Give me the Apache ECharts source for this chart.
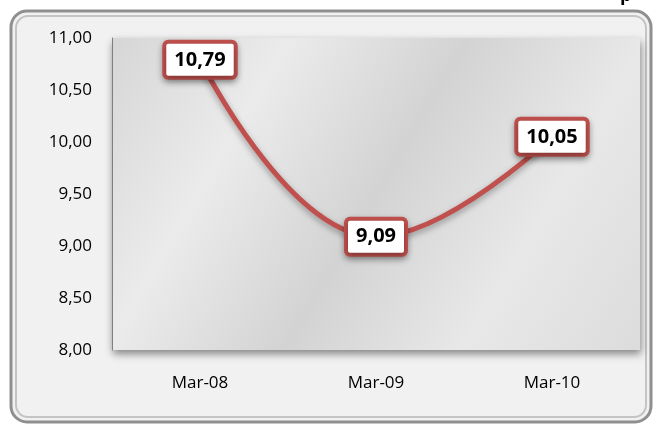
<!DOCTYPE html>
<html>
<head>
<meta charset="utf-8">
<script src="https://cdn.jsdelivr.net/npm/echarts@6/dist/echarts.min.js"></script>
<style>
  html, body { margin: 0; padding: 0; background: #fff; }
  #chart { width: 656px; height: 427px; }
</style>
</head>
<body>
<div id="chart"></div>
<script>
var categories = ['Mar-08', 'Mar-09', 'Mar-10'];
var values = [10.79, 9.09, 10.05];
var yTicks = [8, 11, 0.5]; // min, max, step

var fmt = function (v) {
    return v.toFixed(2).replace('.', ',');
};

var chart = echarts.init(document.getElementById('chart'));

var option = {
    animation: false,
    textStyle: { fontFamily: 'Open Sans' },
    graphic: [
        {
            type: 'rect',
            z: -10,
            shape: { x: 11, y: 11, width: 640, height: 411, r: 16 },
            style: { fill: '#f1f1f1', stroke: '#8f8f8f', lineWidth: 3 }
        },
        {
            type: 'rect',
            z: -9,
            shape: { x: 16, y: 16, width: 630, height: 401, r: 12 },
            style: { fill: 'none', stroke: '#c4c4c4', lineWidth: 2 }
        },
        {
            type: 'text',
            left: 620,
            top: -13,
            style: { text: 'p', font: 'bold 18px "Open Sans"', fill: '#000' }
        }
    ],
    grid: {
        left: 112,
        right: 16,
        top: 38,
        bottom: 77,
        show: true,
        borderWidth: 0,
        backgroundColor: {
            type: 'linear', x: 0, y: 0, x2: 1, y2: 1,
            colorStops: [
                { offset: 0, color: '#d6d6d6' },
                { offset: 0.25, color: '#ebebeb' },
                { offset: 0.5, color: '#d3d3d3' },
                { offset: 0.75, color: '#e8e8e8' },
                { offset: 1, color: '#dcdcdc' }
            ]
        },
        shadowColor: 'rgba(0,0,0,0.45)',
        shadowBlur: 8,
        shadowOffsetX: 1,
        shadowOffsetY: 4
    },
    xAxis: {
        type: 'category',
        data: categories,
        boundaryGap: true,
        axisLine: { show: false },
        axisTick: { show: false },
        axisLabel: { color: '#000', fontSize: 17, margin: 25 }
    },
    yAxis: {
        type: 'value',
        min: yTicks[0],
        max: yTicks[1],
        interval: yTicks[2],
        axisLine: { show: true, lineStyle: { color: '#7f7f7f', width: 1 } },
        axisTick: { show: false },
        splitLine: { show: false },
        axisLabel: { color: '#000', fontSize: 17, margin: 20, formatter: fmt }
    },
    series: [
        {
            type: 'line',
            data: values,
            smooth: 0.45,
            symbol: 'circle',
            symbolSize: 2,
            itemStyle: { color: '#C0504D' },
            lineStyle: {
                color: '#C0504D',
                width: 5,
                shadowColor: 'rgba(0,0,0,0.35)',
                shadowBlur: 6,
                shadowOffsetY: 3
            },
            label: {
                show: true,
                position: 'inside',
                formatter: function (p) { return fmt(p.value); },
                color: '#000',
                fontSize: 20,
                fontWeight: 'bold',
                backgroundColor: '#fff',
                borderColor: '#C0504D',
                borderWidth: 4,
                borderRadius: 2,
                padding: [7, 8, 5, 8],
                shadowColor: 'rgba(0,0,0,0.35)',
                shadowBlur: 6,
                shadowOffsetY: 3
            }
        }
    ]
};

chart.setOption(option);
</script>
</body>
</html>
